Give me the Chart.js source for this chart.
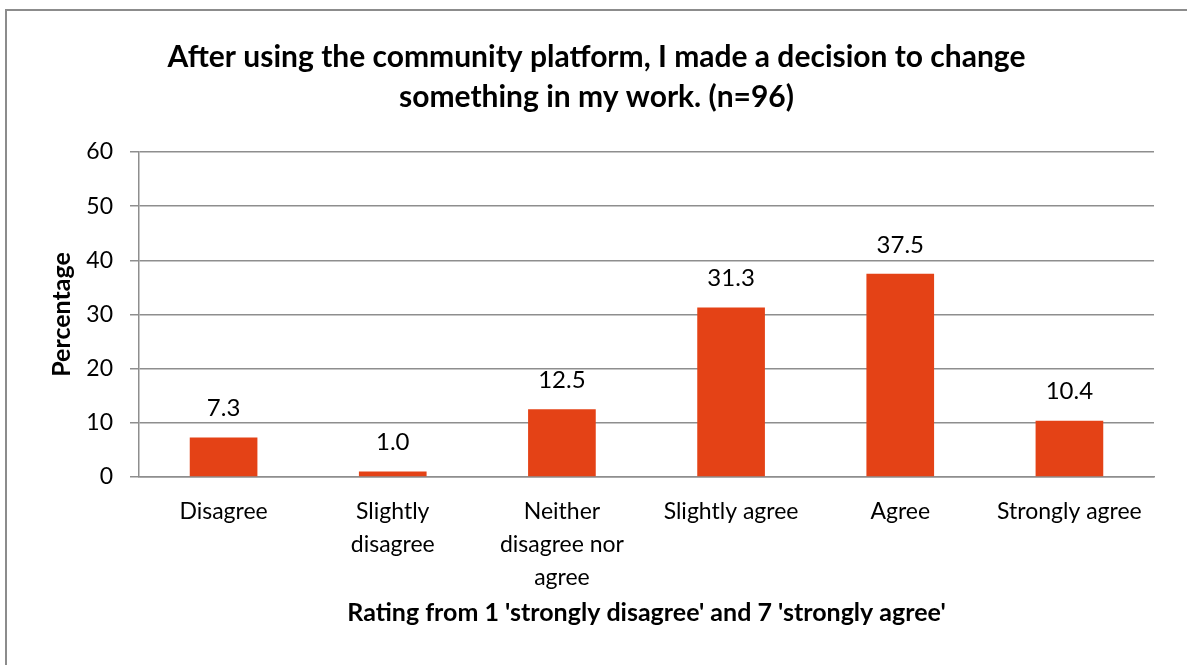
<!DOCTYPE html>
<html lang="en">
<head>
  <meta charset="UTF-8">
  <title>Decision to change something in my work</title>
  <script src="https://cdn.jsdelivr.net/npm/chart.js"></script>
  <style>
  body {
    margin: 0;
    background: #fff;
    font-family: Lato, sans-serif;
  }

  #frame {
    position: absolute;
    left: 5px;
    top: 9px;
    width: 1190px;
    height: 670px;
    border-top: 2px solid #8c8c8c;
    border-left: 2px solid #8c8c8c;
  }

  #chartContainer {
    position: absolute;
    left: 0;
    top: 0;
    width: 1187px;
    height: 665px;
  }
  </style>
</head>
<body>
  <div id="frame"></div>
  <div id="chartContainer">
    <canvas id="myChart" width="1187" height="665"></canvas>
  </div>

  <script>
    const categories = [
      'Disagree',
      ['Slightly', 'disagree'],
      ['Neither', 'disagree nor', 'agree'],
      'Slightly agree',
      'Agree',
      'Strongly agree'
    ];
    const percentages = [7.3, 1.0, 12.5, 31.3, 37.5, 10.4];
    const yTicks = [0, 10, 20, 30, 40, 50, 60];

    const barColor = '#E44216';
    const gridColor = '#8e8e8e';

    // writes each bar's value above it, one decimal place
    const valueLabels = {
      id: 'valueLabels',
      afterDatasetsDraw(chart) {
        const ctx = chart.ctx;
        const meta = chart.getDatasetMeta(0);
        ctx.save();
        ctx.font = '24px Lato';
        ctx.fillStyle = '#000';
        ctx.textAlign = 'center';
        ctx.textBaseline = 'middle';
        meta.data.forEach(function(bar, i) {
          const value = chart.data.datasets[0].data[i];
          ctx.fillText(value.toFixed(1), bar.x, bar.y - 29);
        });
        ctx.restore();
      }
    };

    const ctx = document.getElementById('myChart').getContext('2d');

    new Chart(ctx, {
      type: 'bar',
      data: {
        labels: categories,
        datasets: [{
          label: 'Percentage',
          data: percentages,
          backgroundColor: barColor,
          borderWidth: 0,
          categoryPercentage: 1.0,
          barPercentage: 0.4
        }]
      },
      options: {
        responsive: false,
        animation: false,
        layout: {
          padding: { left: 39, right: 33, top: 0, bottom: 0 }
        },
        plugins: {
          legend: { display: false },
          tooltip: { enabled: false },
          title: {
            display: true,
            text: ['After using the community platform, I made a decision to change',
                   'something in my work. (n=96)'],
            color: '#000',
            font: { family: 'Lato', size: 30, weight: 'bold', lineHeight: 1.333 },
            padding: { top: 37, bottom: 35 }
          }
        },
        scales: {
          x: {
            grid: { display: false, drawTicks: false },
            border: { display: true, color: gridColor, width: 1.5 },
            ticks: {
              color: '#000',
              font: { family: 'Lato', size: 23, lineHeight: 1.43 },
              padding: 18,
              maxRotation: 0,
              autoSkip: false
            },
            title: {
              display: true,
              text: "Rating from 1 'strongly disagree' and 7 'strongly agree'",
              color: '#000',
              font: { family: 'Lato', size: 25, weight: 'bold', lineHeight: 1.2 },
              padding: { top: 0, bottom: 37 }
            },
            afterFit: function(scale) { scale.height = 188; }
          },
          y: {
            min: 0,
            max: 60,
            afterBuildTicks: function(scale) {
              scale.ticks = yTicks.map(function(v) { return { value: v }; });
            },
            grid: {
              color: gridColor,
              lineWidth: 1.5,
              tickLength: 9
            },
            border: { display: true, color: gridColor, width: 1.5 },
            ticks: {
              color: '#000',
              font: { family: 'Lato', size: 23 },
              padding: 17
            },
            title: {
              display: true,
              text: 'Percentage',
              color: '#000',
              font: { family: 'Lato', size: 25, weight: 'bold', lineHeight: 1.2 },
              padding: { top: 8, bottom: 0 }
            },
            afterFit: function(scale) { scale.width = 100; }
          }
        }
      },
      plugins: [valueLabels]
    });
  </script>
</body>
</html>
